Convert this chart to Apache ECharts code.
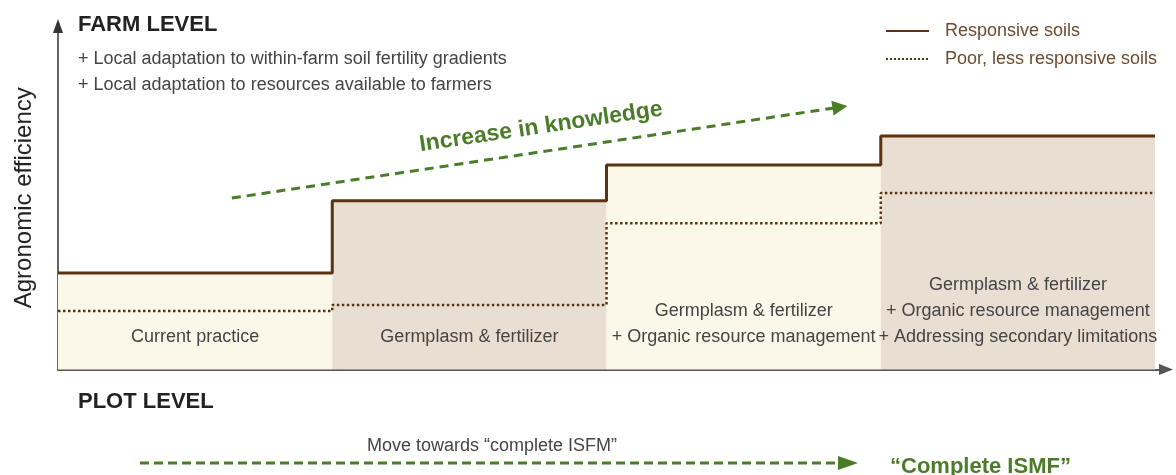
<!DOCTYPE html>
<html><head><meta charset="utf-8">
<script src="https://cdn.jsdelivr.net/npm/echarts@6/dist/echarts.min.js"></script>
<style>html,body{margin:0;padding:0;background:#fff}#c{width:1176px;height:475px}</style>
</head><body><div id="c"></div>
<script>
// ---- data ----
const stageLabels = [
  'Current practice',
  'Germplasm & fertilizer',
  'Germplasm & fertilizer\n+ Organic resource management',
  'Germplasm & fertilizer\n+ Organic resource management\n+ Addressing secondary limitations'
];
const stageStart = [0, 1, 2, 3];
const stageEnd = [1, 2, 3, 4];
const responsive = [28.1, 49.1, 59.5, 68.0];
const poor = [17.0, 18.8, 42.6, 51.4];
const seriesNames = ['Responsive soils', 'Poor, less responsive soils'];
const farmNotes = ['+ Local adaptation to within-farm soil fertility gradients', '+ Local adaptation to resources available to farmers'];
const knowledgeArrow = [[0.634, 49.9], [2.851, 76.4]];

const FONT = "'Liberation Sans', Arial, Helvetica, sans-serif";
const BROWN = '#5a3311';
const GREEN = '#4a7c2a';
const fills = ['#fcf8e9', '#e8dfd2'];

function stepData(vals) {
  const d = vals.map((v, i) => [stageStart[i], v]);
  d.push([stageEnd[stageEnd.length - 1], vals[vals.length - 1]]);
  return d;
}

const chart = echarts.init(document.getElementById('c'), null, {renderer: 'canvas'});
chart.setOption({
  animation: false,
  grid: {left: 58, right: 10, top: 26, bottom: 105.5},
  xAxis: {
    type: 'value', min: 0, max: 4.04,
    axisLine: {show: true, lineStyle: {color: '#555', width: 2}, symbol: ['none', 'triangle'], symbolSize: [11, 14]},
    axisTick: {show: false}, axisLabel: {show: false}, splitLine: {show: false}
  },
  yAxis: {
    type: 'value', min: 0, max: 100,
    name: 'Agronomic efficiency', nameLocation: 'middle', nameGap: 22,
    nameTextStyle: {fontSize: 24, fontFamily: FONT, color: '#222'},
    axisLine: {show: true, lineStyle: {color: '#333', width: 1.5}, symbol: ['none', 'triangle'], symbolSize: [10, 14]},
    axisTick: {show: false}, axisLabel: {show: false}, splitLine: {show: false}
  },
  legend: {
    left: 885, top: 21, orient: 'vertical', padding: 0,
    itemWidth: 43, itemHeight: 14, itemGap: 8,
    itemStyle: {color: 'rgba(0,0,0,0)', borderColor: 'rgba(0,0,0,0)', borderWidth: 0, opacity: 0},
    textStyle: {fontSize: 18, fontFamily: FONT, color: '#6e4b2f', padding: [0, 0, 0, 11], lineHeight: 20},
    data: seriesNames, selectedMode: false
  },
  series: [
    {
      type: 'custom', z: 1, silent: true,
      data: stageLabels.map((l, i) => [stageStart[i], stageEnd[i], responsive[i], i]),
      renderItem: function (params, api) {
        const idx = api.value(3);
        const p0 = api.coord([api.value(0), 0]);
        const p1 = api.coord([api.value(1), api.value(2)]);
        return {
          type: 'group',
          children: [
            {type: 'rect', shape: {x: p0[0], y: p1[1], width: p1[0] - p0[0], height: p0[1] - p1[1]}, style: {fill: fills[idx % 2]}},
            {type: 'text', style: {text: stageLabels[idx], x: (p0[0] + p1[0]) / 2, y: p0[1] - 19, align: 'center', verticalAlign: 'bottom', fontSize: 18, fontFamily: FONT, fill: '#444', lineHeight: 26}}
          ]
        };
      }
    },
    {
      name: seriesNames[0], type: 'line', step: 'end', z: 4, silent: true,
      symbol: 'none', data: stepData(responsive),
      lineStyle: {color: BROWN, width: 3}, itemStyle: {color: BROWN}
    },
    {
      name: seriesNames[1], type: 'line', step: 'end', z: 3, silent: true,
      symbol: 'none', data: stepData(poor),
      lineStyle: {color: BROWN, width: 2.5, type: 'dotted'}, itemStyle: {color: BROWN}
    },
    {
      name: 'knowledge', type: 'lines', coordinateSystem: 'cartesian2d', z: 5, silent: true,
      symbol: ['none', 'triangle'], symbolSize: 15,
      lineStyle: {color: GREEN, width: 3, type: [9, 6], opacity: 1},
      data: [{coords: knowledgeArrow}]
    }
  ],
  graphic: [
    {type: 'text', left: 78, top: 14, style: {text: 'FARM LEVEL', fontSize: 22, fontWeight: 'bold', fontFamily: FONT, fill: '#222'}},
    {type: 'text', x: 78, y: 59, style: {text: farmNotes[0], fontSize: 18, fontFamily: FONT, fill: '#444', verticalAlign: 'middle'}},
    {type: 'text', x: 78, y: 85, style: {text: farmNotes[1], fontSize: 18, fontFamily: FONT, fill: '#444', verticalAlign: 'middle'}},
    {type: 'text', x: 541, y: 127, rotation: 0.147, style: {text: 'Increase in knowledge', fontSize: 23, fontWeight: 'bold', fontFamily: FONT, fill: GREEN, align: 'center', verticalAlign: 'middle'}},
    {type: 'text', left: 78, top: 391, style: {text: 'PLOT LEVEL', fontSize: 22, fontWeight: 'bold', fontFamily: FONT, fill: '#222'}},
    {type: 'text', x: 492, y: 446, style: {text: 'Move towards \u201Ccomplete ISFM\u201D', fontSize: 18, fontFamily: FONT, fill: '#444', align: 'center', verticalAlign: 'middle'}},
    {type: 'line', shape: {x1: 140, y1: 463, x2: 840, y2: 463}, style: {stroke: GREEN, lineWidth: 3, lineDash: [9, 5]}},
    {type: 'polygon', shape: {points: [[838, 456], [858, 463], [838, 470]]}, style: {fill: GREEN}},
    {type: 'text', x: 890, y: 467, style: {text: '\u201CComplete ISMF\u201D', fontSize: 22, fontWeight: 'bold', fontFamily: FONT, fill: GREEN, verticalAlign: 'middle'}}
  ]
});
</script>
</body></html>
